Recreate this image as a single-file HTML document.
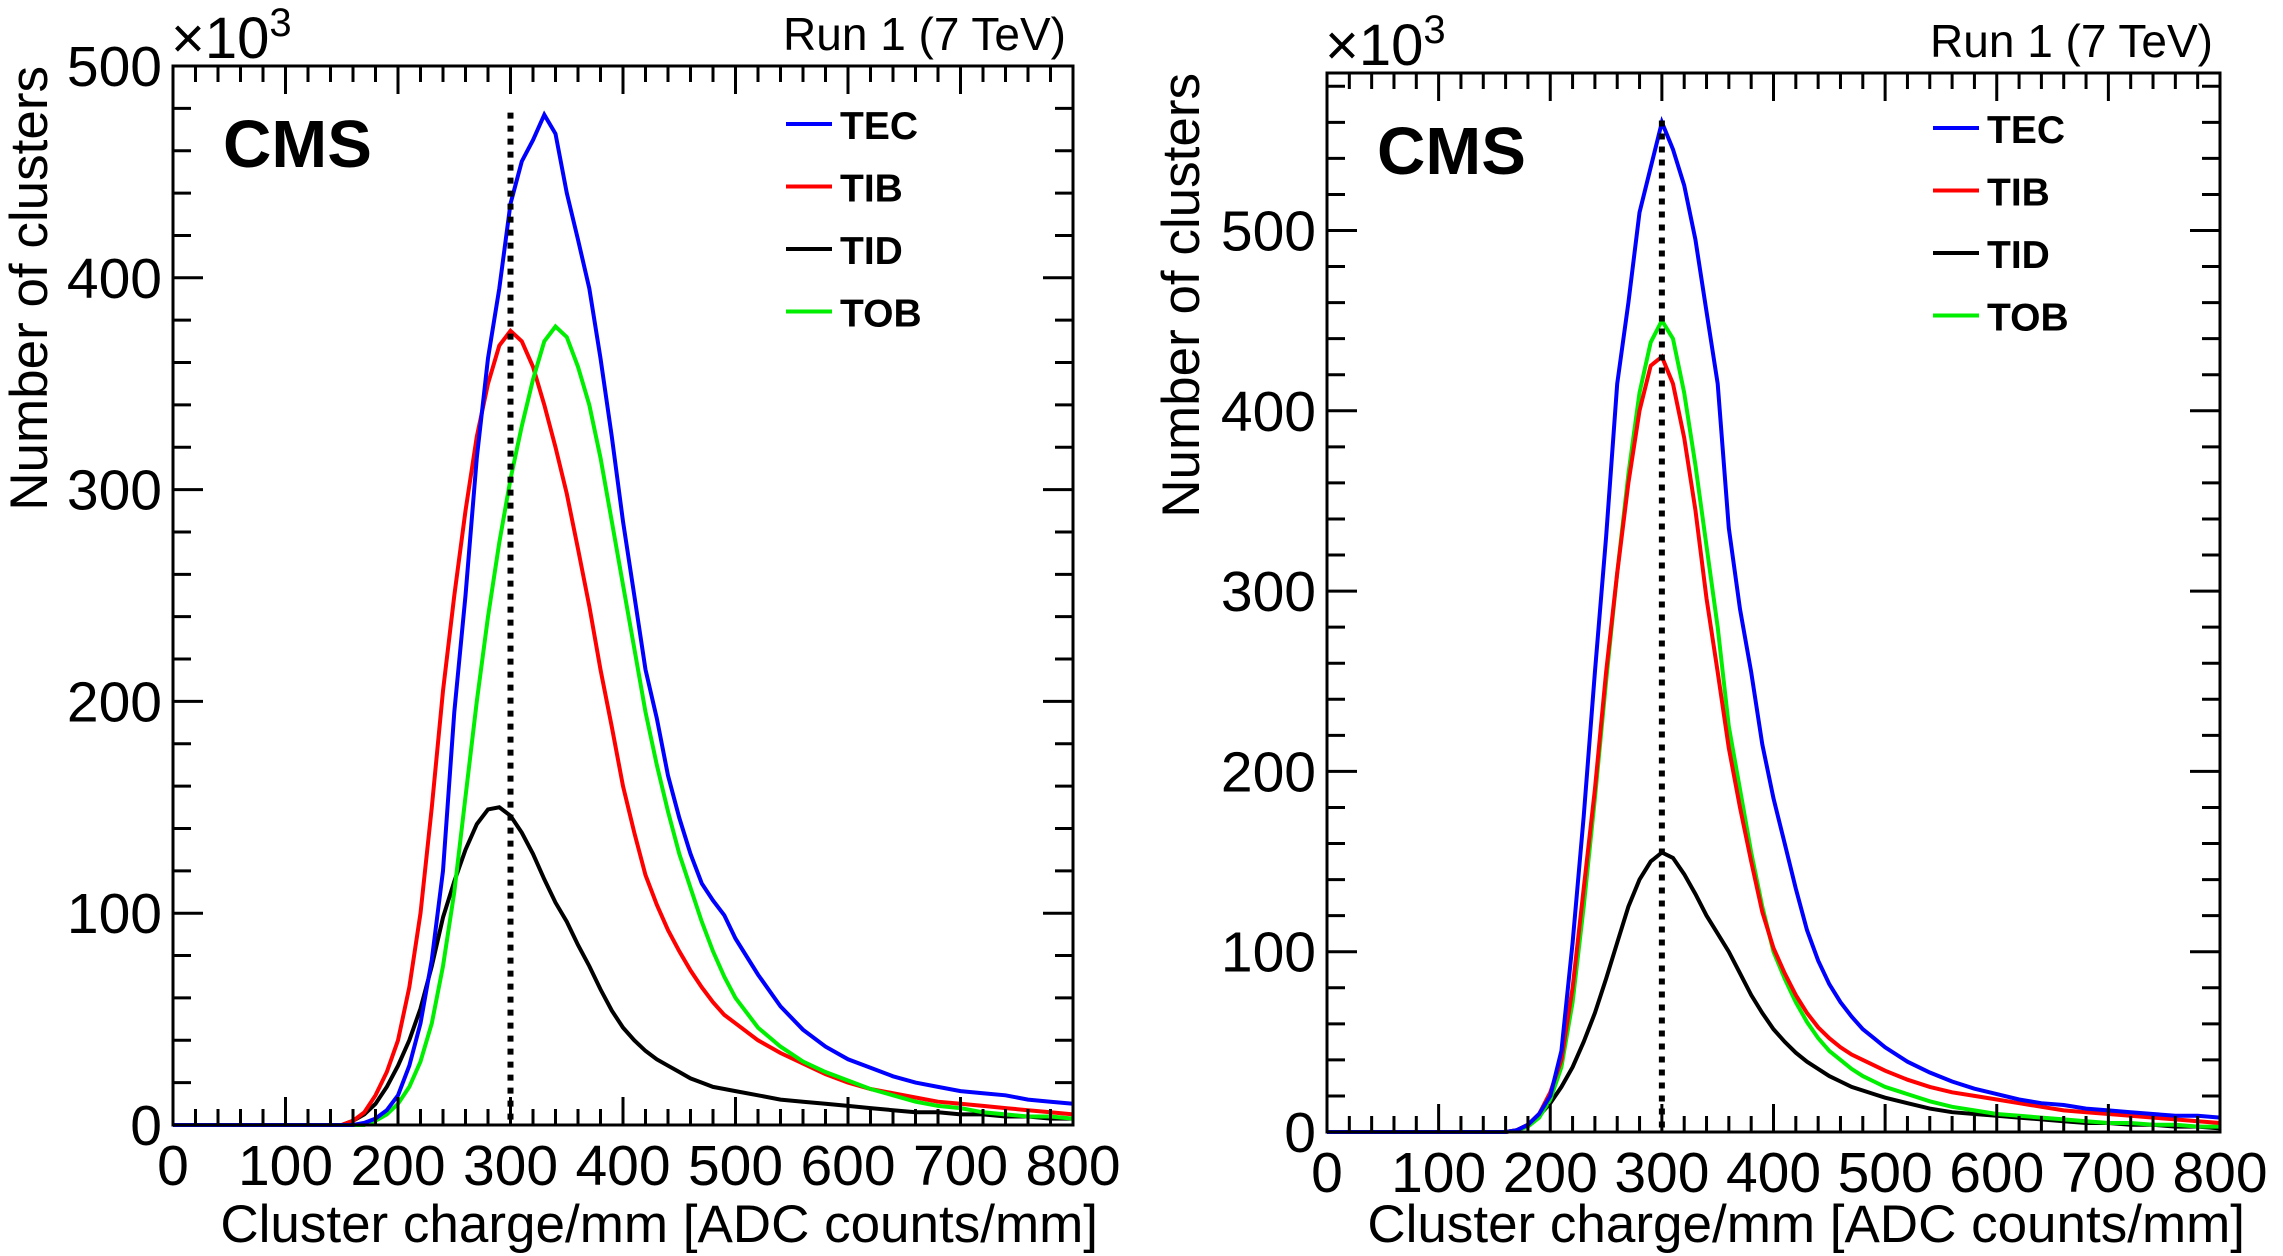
<!DOCTYPE html>
<html><head><meta charset="utf-8"><style>
html,body{margin:0;padding:0;background:#fff;}
svg{display:block;font-family:"Liberation Sans",Arial,sans-serif;}
</style></head><body>
<svg id="chart" width="2283" height="1256" viewBox="0 0 2283 1256" xmlns="http://www.w3.org/2000/svg"></svg>
<script>
// shared x grid (ADC counts/mm)
const xs = [0,150,160,170,180,190,200,210,220,230,240,250,260,270,280,290,300,310,320,330,340,350,360,370,380,390,400,410,420,430,440,450,460,470,480,490,500,520,540,560,580,600,620,640,660,680,700,720,740,760,780,800];
const xTicks = [0,100,200,300,400,500,600,700,800];
const seriesNames = ["TEC","TIB","TID","TOB"];
// left panel values (x10^3)
const leftTEC = [0,0,0,1,3,7,14,28,48,78,120,195,250,315,362,395,435,455,465,477,468,440,418,395,362,325,285,250,215,192,165,145,128,114,106,99,88,71,56,45,37,31,27,23,20,18,16,15,14,12,11,10];
const leftTIB = [0,0,2,6,14,25,40,65,100,150,205,250,290,325,350,368,375,370,358,340,320,298,272,245,215,188,160,138,118,104,92,82,73,65,58,52,48,40,34,29,24,20,17,15,13,11,10,9,8,7,6,5];
const leftTID = [0,0,2,5,10,18,28,40,55,75,98,115,130,142,149,150,146,138,128,116,105,96,85,75,64,54,46,40,35,31,28,25,22,20,18,17,16,14,12,11,10,9,8,7,6,6,5,5,4,4,3,3];
const leftTOB = [0,0,0,0,2,5,10,18,30,48,75,110,155,200,240,275,305,330,352,370,377,372,358,340,315,285,255,225,195,170,148,128,112,96,82,70,60,46,37,30,25,21,17,14,11,9,8,6,5,4,4,3];
// right panel values (x10^3)
const rightTEC = [0,0,0,1,4,10,20,45,105,175,255,330,415,460,510,535,560,545,525,495,455,415,335,290,255,215,185,160,135,112,95,82,72,64,57,52,47,39,33,28,24,21,18,16,15,13,12,11,10,9,9,8];
const rightTIB = [0,0,0,1,4,10,22,40,80,135,190,255,310,360,400,425,430,415,385,345,296,255,213,180,150,122,102,88,76,66,58,52,47,43,40,37,34,29,25,22,20,18,16,14,12,11,10,9,8,7,6,5];
const rightTID = [0,0,0,1,4,9,16,25,36,50,66,85,105,125,140,150,155,152,143,132,120,110,100,88,76,66,57,50,44,39,35,31,28,25,23,21,19,16,13,11,10,9,8,7,6,5,5,4,4,3,3,2];
const rightTOB = [0,0,0,1,3,8,18,36,72,125,185,250,310,365,410,438,450,440,410,370,325,280,225,190,155,125,100,85,72,61,52,45,40,35,31,28,25,21,17,14,12,10,9,8,7,6,5,5,4,4,3,3];
const leftYTicks = [0,100,200,300,400,500];
const rightYTicks = [0,100,200,300,400,500];
const peakLine = [300];
const leftPeak = [478];
const rightPeak = [561];

const NS="http://www.w3.org/2000/svg";
const svg=document.getElementById('chart');
function mk(tag,attrs,parent){const e=document.createElementNS(NS,tag);for(const k in attrs)e.setAttribute(k,attrs[k]);(parent||svg).appendChild(e);return e;}
const colors={TEC:"#0000ff",TIB:"#ff0000",TID:"#000000",TOB:"#00ee00"};

function panel(cfg){
  const g=mk('g',{});
  
  
  const X=v=>cfg.x0+(v/800)*(cfg.x1-cfg.x0);
  const Y=v=>cfg.y0-(v/100)*cfg.py;
  const data={TEC:cfg.TEC,TIB:cfg.TIB,TID:cfg.TID,TOB:cfg.TOB};
  const drawOrder=cfg.order||["TID","TIB","TOB","TEC"];
  drawOrder.forEach(n=>{
    const pts=xs.map((x,i)=>X(x).toFixed(1)+","+Y(data[n][i]).toFixed(1)).join(" ");
    const p=mk('polyline',{points:pts,fill:"none",stroke:colors[n],"stroke-width":4,"stroke-linejoin":"miter"},g);
    
    
  });
  const d=mk('line',{x1:X(peakLine[0]),x2:X(peakLine[0]),y1:Y(cfg.peak[0]),y2:cfg.y0,stroke:"#000","stroke-width":6,"stroke-dasharray":"6 7"},g);
  
  
  const f=mk('rect',{x:cfg.x0,y:cfg.top,width:cfg.x1-cfg.x0,height:cfg.y0-cfg.top,fill:"none",stroke:"#000","stroke-width":3},g);
  
  
  let tp="";
  for(let v=0;v<=800;v+=20){
    const L=(v%100===0)?28:16;const x=X(v);
    tp+=`M${x},${cfg.y0}V${cfg.y0-L}M${x},${cfg.top}V${cfg.top+L}`;
  }
  const ymax=(cfg.y0-cfg.top)/cfg.py*100;
  for(let v=0;v<=ymax;v+=20){
    const L=(v%100===0)?30:18;const y=Y(v);
    tp+=`M${cfg.x0},${y}H${cfg.x0+L}M${cfg.x1},${y}H${cfg.x1-L}`;
  }
  const tk=mk('path',{d:tp,stroke:"#000","stroke-width":3,fill:"none"},g);
  
  
  xTicks.forEach(v=>{
    const t=mk('text',{x:X(v),y:cfg.y0+60,"font-size":57,"text-anchor":"middle"},g);
    t.textContent=v;
    
    
  });
  cfg.yt.forEach(v=>{
    const t=mk('text',{x:cfg.x0-11,y:Y(v)+20,"font-size":57,"text-anchor":"end"},g);
    t.textContent=v;
    
    
  });
  const xt=mk('text',{x:cfg.x1+25,y:1242,"font-size":53,"text-anchor":"end"},g);
  xt.textContent="Cluster charge/mm [ADC counts/mm]";
  
  
  const yt=mk('text',{x:0,y:0,"font-size":53,"text-anchor":"end",transform:`translate(${cfg.ytx},${cfg.top}) rotate(-90)`},g);
  yt.textContent="Number of clusters";
  
  
  const ex=mk('text',{x:cfg.x0-2,y:cfg.top-8,"font-size":58},g);
  ex.innerHTML='×10<tspan font-size="40" dy="-22">3</tspan>';
  
  
  const run=mk('text',{x:cfg.x1-7,y:cfg.top-16,"font-size":46,"text-anchor":"end"},g);
  run.textContent="Run 1 (7 TeV)";
  
  
  const cms=mk('text',{x:cfg.x0+50,y:cfg.top+101,"font-size":67,"font-weight":"bold"},g);
  cms.textContent="CMS";
  
  
  const lg=mk('g',{},g);
  
  
  seriesNames.forEach((n,i)=>{
    const y=cfg.ly+i*62.5;
    const e=mk('g',{},lg);
    
    
    mk('line',{x1:cfg.lx,x2:cfg.lx+46,y1:y,y2:y,stroke:colors[n],"stroke-width":4},e);
    const t=mk('text',{x:cfg.lx+54,y:y+15,"font-size":39,"font-weight":"bold"},e);
    t.textContent=n;
  });
}
panel({name:'left-panel',x0:173,x1:1073,top:66,y0:1125,py:211.8,TEC:leftTEC,TIB:leftTIB,TID:leftTID,TOB:leftTOB,peak:leftPeak,yt:leftYTicks,ytx:47,lx:786,ly:124});
panel({name:'right-panel',x0:1327,x1:2220,top:73,y0:1132,py:180.3,TEC:rightTEC,TIB:rightTIB,TID:rightTID,TOB:rightTOB,peak:rightPeak,yt:rightYTicks,ytx:1199,lx:1933,ly:128,order:["TID","TOB","TIB","TEC"]});
</script>
</body></html>
